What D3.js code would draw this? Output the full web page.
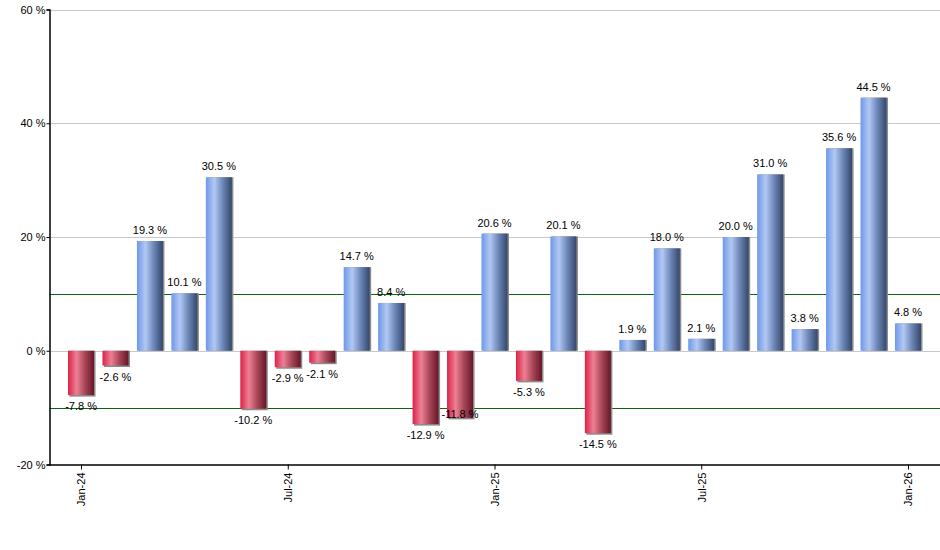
<!DOCTYPE html>
<html>
<head>
<meta charset="utf-8">
<script src="https://cdn.jsdelivr.net/npm/d3@7"></script>
<style>
  body { margin: 0; background: #fff; }
  text { font-family: "Liberation Sans", Arial, sans-serif; font-size: 11px; fill: #000; }
</style>
</head>
<body>
<svg id="chart" width="940" height="550" viewBox="0 0 940 550"></svg>
<script>
// monthly returns, Jan-24 .. Jan-26
const months = ["Jan-24","Feb-24","Mar-24","Apr-24","May-24","Jun-24","Jul-24","Aug-24","Sep-24","Oct-24","Nov-24","Dec-24",
                "Jan-25","Feb-25","Mar-25","Apr-25","May-25","Jun-25","Jul-25","Aug-25","Sep-25","Oct-25","Nov-25","Dec-25","Jan-26"]
const values = [-7.8, -2.6, 19.3, 10.1, 30.5, -10.2, -2.9, -2.1, 14.7, 8.4, -12.9, -11.8,
                20.6, -5.3, 20.1, -14.5, 1.9, 18.0, 2.1, 20.0, 31.0, 3.8, 35.6, 44.5, 4.8]
const xTickLabels = ["Jan-24","Jul-24","Jan-25","Jul-25","Jan-26"]
const yTicks = [-20, 0, 20, 40, 60]
const refLines = [10, -10]
// the source chart pushed one label up to dodge its neighbour
const labelNudge = {"Dec-24": -15}

const data = months.map((m, i) => ({month: m, value: values[i]}))

const svg = d3.select("#chart")
const plotLeft = 49.5, plotRight = 939.5, plotTop = 9.5, plotBottom = 464.5

const x = d3.scalePoint()
    .domain(months)
    .range([plotLeft, plotRight])
    .padding(0.915)
const step = x.step()
const barW = step * 0.755

const y = d3.scaleLinear()
    .domain([-20, 60])
    .range([plotBottom, plotTop])

// plain hyphen instead of d3's unicode minus
const pct = v => v.toFixed(1) + " %"

// gradients for the bars
const defs = svg.append("defs")
function grad(id, stops) {
    const g = defs.append("linearGradient").attr("id", id)
        .attr("x1", "0%").attr("x2", "100%").attr("y1", "0%").attr("y2", "0%")
    stops.forEach(s => g.append("stop").attr("offset", s[0]).attr("stop-color", s[1]))
}
grad("gPos", [["0%", "#6f98e8"], ["33%", "#b2c8f4"], ["65%", "#6c86b6"], ["100%", "#34476c"]])
grad("gNeg", [["0%", "#dc2248"], ["33%", "#ec8094"], ["65%", "#a84658"], ["100%", "#661628"]])

// gridlines
svg.append("g")
    .selectAll("line")
    .data(yTicks.filter(d => d > -20))
    .join("line")
    .attr("x1", plotLeft).attr("x2", plotRight + 1)
    .attr("y1", d => Math.round(y(d)) + 0.5).attr("y2", d => Math.round(y(d)) + 0.5)
    .attr("stroke", "#c8c8c8")
    .attr("stroke-width", 1)

// +/-10 % reference lines
svg.append("g")
    .selectAll("line")
    .data(refLines)
    .join("line")
    .attr("x1", plotLeft).attr("x2", plotRight + 1)
    .attr("y1", d => Math.round(y(d)) + 0.5).attr("y2", d => Math.round(y(d)) + 0.5)
    .attr("stroke", "#0e640e")
    .attr("stroke-width", 1)

// axes
const yAxis = d3.axisLeft(y).tickValues(yTicks).tickSize(3).tickPadding(1).tickFormat(d => d + " %")
svg.append("g")
    .attr("transform", `translate(${plotLeft},0)`)
    .call(yAxis)
    .call(g => g.select(".domain").attr("stroke", "#000").attr("stroke-width", 1.5))
    .call(g => g.selectAll(".tick line").attr("stroke", "#000"))
    .call(g => g.selectAll(".tick text").attr("font-size", 11).attr("font-family", null))

const xAxis = d3.axisBottom(x).tickValues(xTickLabels).tickSize(5).tickSizeOuter(0)
svg.append("g")
    .attr("transform", `translate(0,${plotBottom})`)
    .call(xAxis)
    .call(g => g.select(".domain").attr("stroke", "#000").attr("stroke-width", 1.5)
        .attr("d", `M${plotLeft},0.5H${plotRight + 1}`))
    .call(g => g.selectAll(".tick line").attr("stroke", "#000"))
    .call(g => g.selectAll(".tick text")
        .attr("font-size", 11).attr("font-family", null)
        .attr("transform", "rotate(-90)")
        .attr("text-anchor", "end")
        .attr("x", -8).attr("y", 0).attr("dy", "0.35em"))

// bars
const bars = svg.append("g")
    .selectAll("g")
    .data(data)
    .join("g")

bars.append("rect")
    .attr("x", d => x(d.month) - barW / 2 + 1.5)
    .attr("y", d => d.value >= 0 ? y(d.value) : y(0))
    .attr("width", barW)
    .attr("height", d => Math.abs(y(d.value) - y(0)) + (d.value < 0 ? 1.5 : 0))
    .attr("fill", "#8c8c8c")

bars.append("rect")
    .attr("x", d => x(d.month) - barW / 2)
    .attr("y", d => d.value >= 0 ? y(d.value) : y(0))
    .attr("width", barW)
    .attr("height", d => Math.abs(y(d.value) - y(0)))
    .attr("fill", d => d.value >= 0 ? "url(#gPos)" : "url(#gNeg)")

// value labels
bars.append("text")
    .attr("x", d => x(d.month))
    .attr("y", d => (d.value >= 0 ? y(d.value) - 7 : y(d.value) + 15) + (labelNudge[d.month] || 0))
    .attr("text-anchor", "middle")
    .text(d => pct(d.value))
</script>
</body>
</html>
